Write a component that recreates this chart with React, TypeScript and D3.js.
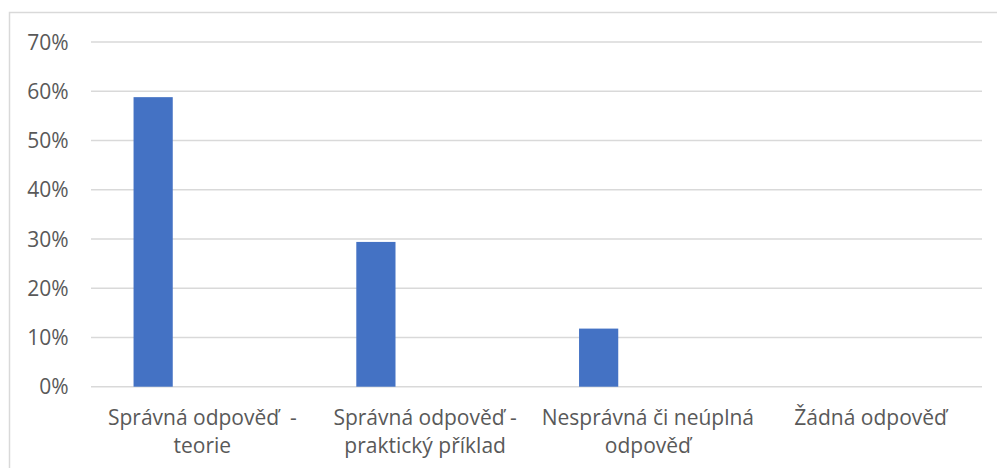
import React from 'react';
import * as d3 from 'd3';

const categories = [
  'Správná odpověď  -\nteorie',
  'Správná odpověď -\npraktický příklad',
  'Nesprávná či neúplná\nodpověď',
  'Žádná odpověď',
];
const values = [0.588, 0.294, 0.118, 0];
const yTicks = [0, 0.1, 0.2, 0.3, 0.4, 0.5, 0.6, 0.7];

const W = 997;
const H = 468;
const margin = { top: 42, right: 15, bottom: 81.3, left: 91 };

const App: React.FC = () => {
  const x = d3.scaleBand<string>()
    .domain(categories)
    .range([margin.left, W - margin.right])
    .padding(0);

  const y = d3.scaleLinear()
    .domain([0, 0.7])
    .range([H - margin.bottom, margin.top]);

  const bw = x.bandwidth();
  // bar sits left of the category centre (empty second series in the source)
  const barOffset = bw * 0.191;
  const barWidth = bw * 0.176;
  const fmt = d3.format('.0%');
  const font = '"Open Sans", "DejaVu Sans", sans-serif';

  return (
    <svg width={W} height={H} style={{ position: 'absolute', left: 0, top: 0, background: '#fff' }}>
      <rect x={9.5} y={12.5} width={1000} height={470} fill="#fff" stroke="#d9d9d9" strokeWidth={1.5} />

      {/* gridlines */}
      {yTicks.map(t => (
        <line key={t} x1={margin.left} x2={W - margin.right} y1={y(t)} y2={y(t)}
          stroke="#d9d9d9" strokeWidth={1.5} />
      ))}

      {/* y labels */}
      {yTicks.map(t => (
        <text key={'l' + t} x={68.5} y={y(t)} dy="0.36em" textAnchor="end"
          fontFamily={font} fontSize={21} fill="#595959">{fmt(t)}</text>
      ))}

      {/* bars */}
      {categories.map((c, i) => (
        <rect key={c} x={(x(c) ?? 0) + barOffset} width={barWidth}
          y={y(values[i])} height={y(0) - y(values[i])} fill="#4472c4" />
      ))}

      {/* category labels */}
      {categories.map(c => (
        <text key={'c' + c} x={(x(c) ?? 0) + bw / 2} y={425} textAnchor="middle"
          fontFamily={font} fontSize={21} fill="#595959" xmlSpace="preserve">
          {c.split('\n').map((line, j) => (
            <tspan key={j} x={(x(c) ?? 0) + bw / 2} dy={j === 0 ? 0 : 28.3}>{line}</tspan>
          ))}
        </text>
      ))}
    </svg>
  );
};

export default App;
